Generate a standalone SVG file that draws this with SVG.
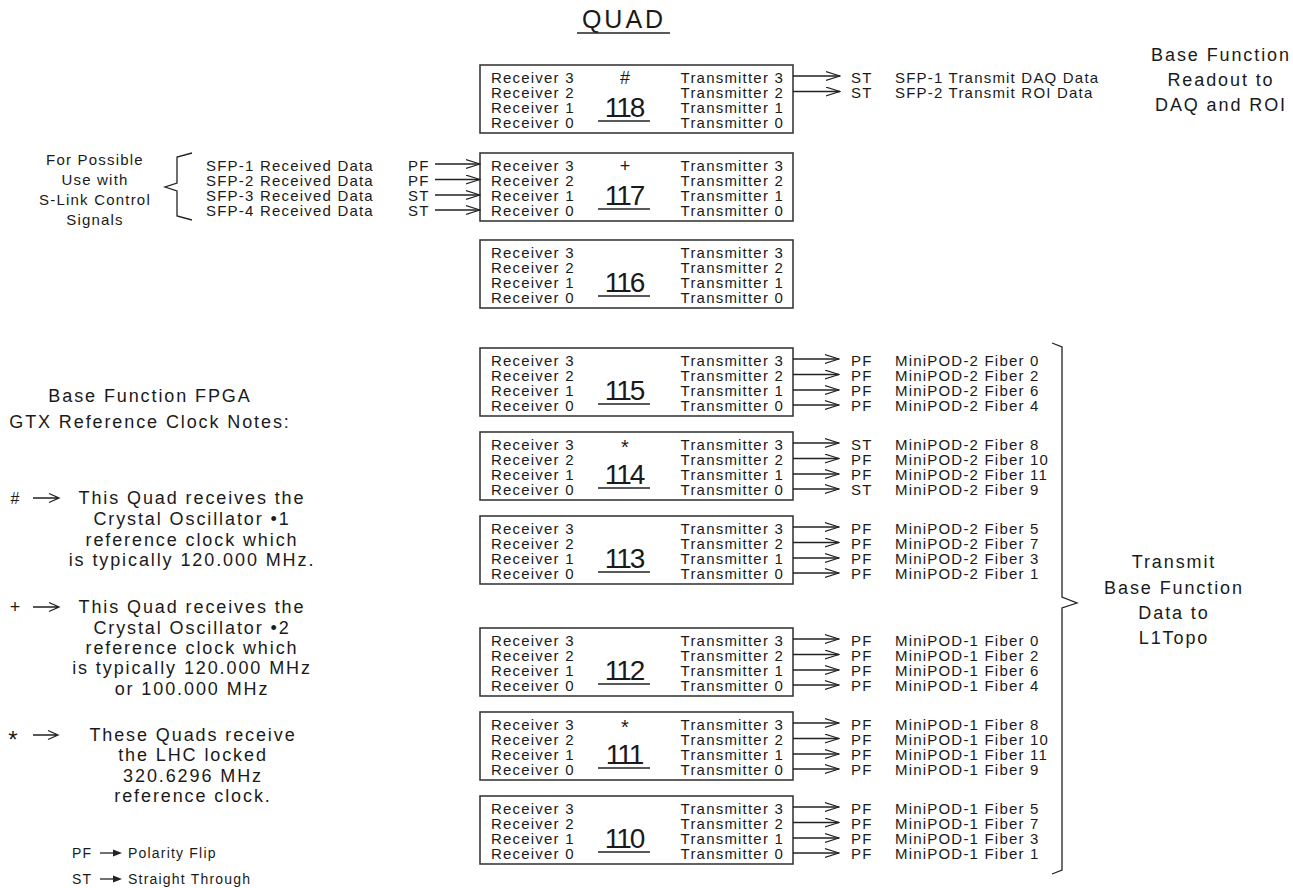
<svg xmlns="http://www.w3.org/2000/svg" width="1293" height="888" viewBox="0 0 1293 888">
<style>
text{font-family:"Liberation Sans",Arial,sans-serif;fill:#1a1a1a}
.t{font-size:15px;letter-spacing:1.2px}
.e{text-anchor:end}
.m{text-anchor:middle}
.num{font-size:28px;letter-spacing:-2px;text-anchor:middle}
.sym{font-size:18px;text-anchor:middle}
.ast{font-size:20px;text-anchor:middle}
.big{font-size:18px;letter-spacing:1.9px;text-anchor:middle}
.leg{font-size:14px;letter-spacing:1.2px}
rect{fill:#fff;stroke:#3a3a3a;stroke-width:1.6}
.ul{stroke:#222;stroke-width:1.3}
.ln{fill:none;stroke:#222;stroke-width:1.3}
.ar{fill:none;stroke:#222;stroke-width:1.3;marker-end:url(#chev)}
</style>
<defs>
<marker id="chev" viewBox="0 0 15 10" refX="14.5" refY="5" markerWidth="15" markerHeight="10" markerUnits="userSpaceOnUse" orient="auto">
<path d="M0,0.5 L14.5,5 L0,9.5" fill="none" stroke="#222" stroke-width="1.3"/>
</marker>
</defs>
<rect x="0" y="0" width="1293" height="888" style="fill:#fff;stroke:none"/>

<g id="title">
<text x="624" y="28" style="font-size:25px;letter-spacing:3px;text-anchor:middle">QUAD</text>
<line class="ul" x1="577" y1="33" x2="670" y2="33"/>
</g>

<g id="readout-note">
<text class="big" x="1221" y="61">Base Function</text>
<text class="big" x="1221" y="86">Readout to</text>
<text class="big" x="1221" y="111">DAQ and ROI</text>
</g>

<g id="quad118">
<rect x="480" y="65" width="313" height="68"/>
<text class="t" x="491" y="82.5">Receiver 3</text>
<text class="t" x="491" y="97.8">Receiver 2</text>
<text class="t" x="491" y="113.1">Receiver 1</text>
<text class="t" x="491" y="128.4">Receiver 0</text>
<text class="t e" x="784" y="82.5">Transmitter 3</text>
<text class="t e" x="784" y="97.8">Transmitter 2</text>
<text class="t e" x="784" y="113.1">Transmitter 1</text>
<text class="t e" x="784" y="128.4">Transmitter 0</text>
<text class="sym" x="625" y="83.5">#</text>
<text class="num" x="624" y="117">118</text>
<line class="ul" x1="598" y1="121" x2="650" y2="121"/>
</g>

<g id="quad117">
<rect x="480" y="153" width="313" height="68"/>
<text class="t" x="491" y="170.5">Receiver 3</text>
<text class="t" x="491" y="185.8">Receiver 2</text>
<text class="t" x="491" y="201.1">Receiver 1</text>
<text class="t" x="491" y="216.4">Receiver 0</text>
<text class="t e" x="784" y="170.5">Transmitter 3</text>
<text class="t e" x="784" y="185.8">Transmitter 2</text>
<text class="t e" x="784" y="201.1">Transmitter 1</text>
<text class="t e" x="784" y="216.4">Transmitter 0</text>
<text class="sym" x="625" y="172">+</text>
<text class="num" x="624" y="205">117</text>
<line class="ul" x1="598" y1="209" x2="650" y2="209"/>
</g>

<g id="quad116">
<rect x="480" y="240" width="313" height="68"/>
<text class="t" x="491" y="257.5">Receiver 3</text>
<text class="t" x="491" y="272.8">Receiver 2</text>
<text class="t" x="491" y="288.1">Receiver 1</text>
<text class="t" x="491" y="303.4">Receiver 0</text>
<text class="t e" x="784" y="257.5">Transmitter 3</text>
<text class="t e" x="784" y="272.8">Transmitter 2</text>
<text class="t e" x="784" y="288.1">Transmitter 1</text>
<text class="t e" x="784" y="303.4">Transmitter 0</text>
<text class="num" x="624" y="292">116</text>
<line class="ul" x1="598" y1="296" x2="650" y2="296"/>
</g>

<g id="quad115">
<rect x="480" y="348" width="313" height="68"/>
<text class="t" x="491" y="365.5">Receiver 3</text>
<text class="t" x="491" y="380.8">Receiver 2</text>
<text class="t" x="491" y="396.1">Receiver 1</text>
<text class="t" x="491" y="411.4">Receiver 0</text>
<text class="t e" x="784" y="365.5">Transmitter 3</text>
<text class="t e" x="784" y="380.8">Transmitter 2</text>
<text class="t e" x="784" y="396.1">Transmitter 1</text>
<text class="t e" x="784" y="411.4">Transmitter 0</text>
<text class="num" x="624" y="400">115</text>
<line class="ul" x1="598" y1="404" x2="650" y2="404"/>
</g>

<g id="quad114">
<rect x="480" y="432" width="313" height="68"/>
<text class="t" x="491" y="449.5">Receiver 3</text>
<text class="t" x="491" y="464.8">Receiver 2</text>
<text class="t" x="491" y="480.1">Receiver 1</text>
<text class="t" x="491" y="495.4">Receiver 0</text>
<text class="t e" x="784" y="449.5">Transmitter 3</text>
<text class="t e" x="784" y="464.8">Transmitter 2</text>
<text class="t e" x="784" y="480.1">Transmitter 1</text>
<text class="t e" x="784" y="495.4">Transmitter 0</text>
<text class="ast" x="625" y="454">*</text>
<text class="num" x="624" y="484">114</text>
<line class="ul" x1="598" y1="488" x2="650" y2="488"/>
</g>

<g id="quad113">
<rect x="480" y="516" width="313" height="68"/>
<text class="t" x="491" y="533.5">Receiver 3</text>
<text class="t" x="491" y="548.8">Receiver 2</text>
<text class="t" x="491" y="564.1">Receiver 1</text>
<text class="t" x="491" y="579.4">Receiver 0</text>
<text class="t e" x="784" y="533.5">Transmitter 3</text>
<text class="t e" x="784" y="548.8">Transmitter 2</text>
<text class="t e" x="784" y="564.1">Transmitter 1</text>
<text class="t e" x="784" y="579.4">Transmitter 0</text>
<text class="num" x="624" y="568">113</text>
<line class="ul" x1="598" y1="572" x2="650" y2="572"/>
</g>

<g id="quad112">
<rect x="480" y="628" width="313" height="68"/>
<text class="t" x="491" y="645.5">Receiver 3</text>
<text class="t" x="491" y="660.8">Receiver 2</text>
<text class="t" x="491" y="676.1">Receiver 1</text>
<text class="t" x="491" y="691.4">Receiver 0</text>
<text class="t e" x="784" y="645.5">Transmitter 3</text>
<text class="t e" x="784" y="660.8">Transmitter 2</text>
<text class="t e" x="784" y="676.1">Transmitter 1</text>
<text class="t e" x="784" y="691.4">Transmitter 0</text>
<text class="num" x="624" y="680">112</text>
<line class="ul" x1="598" y1="684" x2="650" y2="684"/>
</g>

<g id="quad111">
<rect x="480" y="712" width="313" height="68"/>
<text class="t" x="491" y="729.5">Receiver 3</text>
<text class="t" x="491" y="744.8">Receiver 2</text>
<text class="t" x="491" y="760.1">Receiver 1</text>
<text class="t" x="491" y="775.4">Receiver 0</text>
<text class="t e" x="784" y="729.5">Transmitter 3</text>
<text class="t e" x="784" y="744.8">Transmitter 2</text>
<text class="t e" x="784" y="760.1">Transmitter 1</text>
<text class="t e" x="784" y="775.4">Transmitter 0</text>
<text class="ast" x="625" y="734">*</text>
<text class="num" x="624" y="764">111</text>
<line class="ul" x1="598" y1="768" x2="650" y2="768"/>
</g>

<g id="quad110">
<rect x="480" y="796" width="313" height="68"/>
<text class="t" x="491" y="813.5">Receiver 3</text>
<text class="t" x="491" y="828.8">Receiver 2</text>
<text class="t" x="491" y="844.1">Receiver 1</text>
<text class="t" x="491" y="859.4">Receiver 0</text>
<text class="t e" x="784" y="813.5">Transmitter 3</text>
<text class="t e" x="784" y="828.8">Transmitter 2</text>
<text class="t e" x="784" y="844.1">Transmitter 1</text>
<text class="t e" x="784" y="859.4">Transmitter 0</text>
<text class="num" x="624" y="848">110</text>
<line class="ul" x1="598" y1="852" x2="650" y2="852"/>
</g>

<g id="connectors">
<path class="ar" d="M793 76 H840"/>
<path class="ar" d="M793 91.5 H840"/>
<path class="ar" d="M435 164 H480"/>
<path class="ar" d="M435 179.5 H480"/>
<path class="ar" d="M435 195 H480"/>
<path class="ar" d="M435 210 H480"/>
<path class="ar" d="M793 359 H839"/>
<path class="ar" d="M793 374.5 H839"/>
<path class="ar" d="M793 390 H839"/>
<path class="ar" d="M793 405 H839"/>
<path class="ar" d="M793 443 H839"/>
<path class="ar" d="M793 458.5 H839"/>
<path class="ar" d="M793 474 H839"/>
<path class="ar" d="M793 489 H839"/>
<path class="ar" d="M793 527 H839"/>
<path class="ar" d="M793 542.5 H839"/>
<path class="ar" d="M793 558 H839"/>
<path class="ar" d="M793 573 H839"/>
<path class="ar" d="M793 639 H839"/>
<path class="ar" d="M793 654.5 H839"/>
<path class="ar" d="M793 670 H839"/>
<path class="ar" d="M793 685 H839"/>
<path class="ar" d="M793 723 H839"/>
<path class="ar" d="M793 738.5 H839"/>
<path class="ar" d="M793 754 H839"/>
<path class="ar" d="M793 769 H839"/>
<path class="ar" d="M793 807 H839"/>
<path class="ar" d="M793 822.5 H839"/>
<path class="ar" d="M793 838 H839"/>
<path class="ar" d="M793 853 H839"/>
</g>

<g id="sfp-out">
<text class="t" x="851" y="82.5">ST</text>
<text class="t" x="851" y="97.8">ST</text>
<text class="t" x="895" y="82.5">SFP-1 Transmit DAQ Data</text>
<text class="t" x="895" y="97.8">SFP-2 Transmit ROI Data</text>
</g>

<g id="sfp-in">
<text class="t" x="206" y="170.5">SFP-1 Received Data</text>
<text class="t" x="206" y="185.8">SFP-2 Received Data</text>
<text class="t" x="206" y="201.1">SFP-3 Received Data</text>
<text class="t" x="206" y="216.4">SFP-4 Received Data</text>
<text class="t" x="408" y="170.5">PF</text>
<text class="t" x="408" y="185.8">PF</text>
<text class="t" x="408" y="201.1">ST</text>
<text class="t" x="408" y="216.4">ST</text>
<path class="ln" d="M192 153 L177 157 V183 L165 187 L177 191 V216 L192 220"/>
<text class="t m" x="95" y="165">For Possible</text>
<text class="t m" x="95" y="185">Use with</text>
<text class="t m" x="95" y="205">S-Link Control</text>
<text class="t m" x="95" y="225">Signals</text>
</g>

<g id="minipod2">
<text class="t" x="851" y="365.5">PF</text>
<text class="t" x="851" y="380.8">PF</text>
<text class="t" x="851" y="396.1">PF</text>
<text class="t" x="851" y="411.4">PF</text>
<text class="t" x="895" y="365.5">MiniPOD-2 Fiber 0</text>
<text class="t" x="895" y="380.8">MiniPOD-2 Fiber 2</text>
<text class="t" x="895" y="396.1">MiniPOD-2 Fiber 6</text>
<text class="t" x="895" y="411.4">MiniPOD-2 Fiber 4</text>
<text class="t" x="851" y="449.5">ST</text>
<text class="t" x="851" y="464.8">PF</text>
<text class="t" x="851" y="480.1">PF</text>
<text class="t" x="851" y="495.4">ST</text>
<text class="t" x="895" y="449.5">MiniPOD-2 Fiber 8</text>
<text class="t" x="895" y="464.8">MiniPOD-2 Fiber 10</text>
<text class="t" x="895" y="480.1">MiniPOD-2 Fiber 11</text>
<text class="t" x="895" y="495.4">MiniPOD-2 Fiber 9</text>
<text class="t" x="851" y="533.5">PF</text>
<text class="t" x="851" y="548.8">PF</text>
<text class="t" x="851" y="564.1">PF</text>
<text class="t" x="851" y="579.4">PF</text>
<text class="t" x="895" y="533.5">MiniPOD-2 Fiber 5</text>
<text class="t" x="895" y="548.8">MiniPOD-2 Fiber 7</text>
<text class="t" x="895" y="564.1">MiniPOD-2 Fiber 3</text>
<text class="t" x="895" y="579.4">MiniPOD-2 Fiber 1</text>
</g>

<g id="minipod1">
<text class="t" x="851" y="645.5">PF</text>
<text class="t" x="851" y="660.8">PF</text>
<text class="t" x="851" y="676.1">PF</text>
<text class="t" x="851" y="691.4">PF</text>
<text class="t" x="895" y="645.5">MiniPOD-1 Fiber 0</text>
<text class="t" x="895" y="660.8">MiniPOD-1 Fiber 2</text>
<text class="t" x="895" y="676.1">MiniPOD-1 Fiber 6</text>
<text class="t" x="895" y="691.4">MiniPOD-1 Fiber 4</text>
<text class="t" x="851" y="729.5">PF</text>
<text class="t" x="851" y="744.8">PF</text>
<text class="t" x="851" y="760.1">PF</text>
<text class="t" x="851" y="775.4">PF</text>
<text class="t" x="895" y="729.5">MiniPOD-1 Fiber 8</text>
<text class="t" x="895" y="744.8">MiniPOD-1 Fiber 10</text>
<text class="t" x="895" y="760.1">MiniPOD-1 Fiber 11</text>
<text class="t" x="895" y="775.4">MiniPOD-1 Fiber 9</text>
<text class="t" x="851" y="813.5">PF</text>
<text class="t" x="851" y="828.8">PF</text>
<text class="t" x="851" y="844.1">PF</text>
<text class="t" x="851" y="859.4">PF</text>
<text class="t" x="895" y="813.5">MiniPOD-1 Fiber 5</text>
<text class="t" x="895" y="828.8">MiniPOD-1 Fiber 7</text>
<text class="t" x="895" y="844.1">MiniPOD-1 Fiber 3</text>
<text class="t" x="895" y="859.4">MiniPOD-1 Fiber 1</text>
</g>

<g id="l1topo">
<path class="ln" d="M1052 343 L1062 347 V597 L1077 603 L1062 608 V870 L1052 874"/>
<text class="big" x="1174" y="568">Transmit</text>
<text class="big" x="1174" y="594">Base Function</text>
<text class="big" x="1174" y="619">Data to</text>
<text class="big" x="1174" y="644">L1Topo</text>
</g>

<g id="clock-notes">
<text class="big" x="150" y="402">Base Function FPGA</text>
<text class="big" x="150" y="428">GTX Reference Clock Notes:</text>
<text x="15" y="504" style="font-size:16px;text-anchor:middle">#</text>
<path class="ln" d="M33 498 H59 M49 493.5 L59 498 L49 502.5"/>
<text class="big" x="192" y="504">This Quad receives the</text>
<text class="big" x="192" y="525">Crystal Oscillator •1</text>
<text class="big" x="192" y="546">reference clock which</text>
<text class="big" x="192" y="566">is typically 120.000 MHz.</text>
<text x="15" y="613" style="font-size:18px;text-anchor:middle">+</text>
<path class="ln" d="M33 607 H59 M49 602.5 L59 607 L49 611.5"/>
<text class="big" x="192" y="613">This Quad receives the</text>
<text class="big" x="192" y="634">Crystal Oscillator •2</text>
<text class="big" x="192" y="654">reference clock which</text>
<text class="big" x="192" y="674">is typically 120.000 MHz</text>
<text class="big" x="192" y="695">or 100.000 MHz</text>
<text x="13" y="748" style="font-size:24px;text-anchor:middle">*</text>
<path class="ln" d="M33 735 H58 M48 730.5 L58 735 L48 739.5"/>
<text class="big" x="193" y="741">These Quads receive</text>
<text class="big" x="193" y="761">the LHC locked</text>
<text class="big" x="193" y="782">320.6296 MHz</text>
<text class="big" x="193" y="802">reference clock.</text>
</g>

<g id="legend">
<text class="leg" x="72" y="858">PF</text>
<path class="ln" d="M100 853 H114"/>
<path d="M113 849.5 L122 853 L113 856.5 Z" fill="#222"/>
<text class="leg" x="128" y="858">Polarity Flip</text>
<text class="leg" x="72" y="884">ST</text>
<path class="ln" d="M100 879 H114"/>
<path d="M113 875.5 L122 879 L113 882.5 Z" fill="#222"/>
<text class="leg" x="128" y="884">Straight Through</text>
</g>
</svg>
